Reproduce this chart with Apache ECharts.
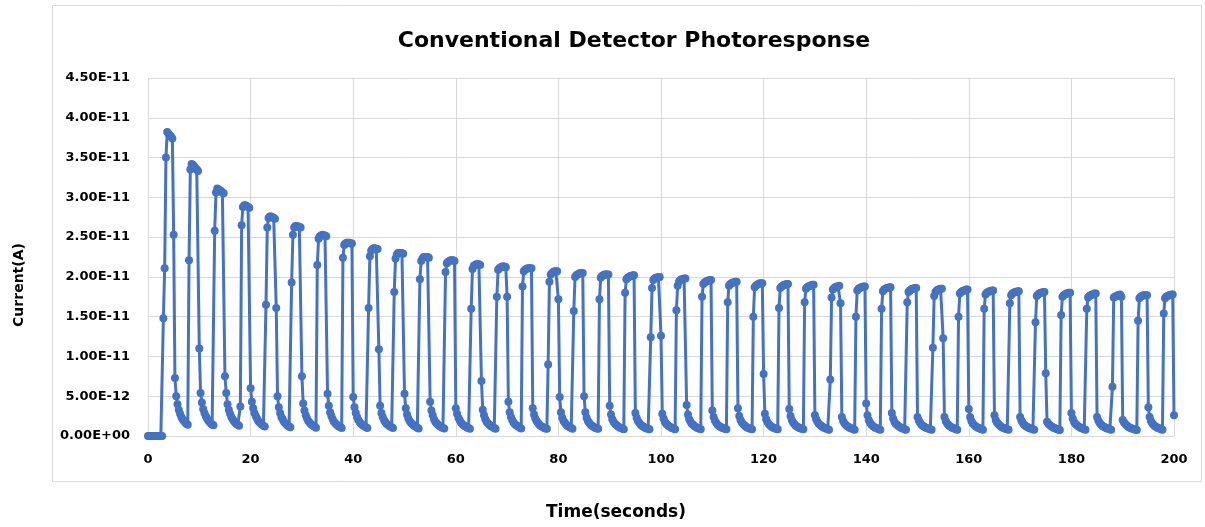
<!DOCTYPE html>
<html>
<head>
<meta charset="utf-8">
<title>Conventional Detector Photoresponse</title>
<script src="https://cdn.jsdelivr.net/npm/echarts@6/dist/echarts.min.js"></script>
<style>
  html, body { margin: 0; padding: 0; background: #ffffff; }
  #chart { width: 1205px; height: 527px; }
</style>
</head>
<body>
<div id="chart"></div>
<script>
// Logger sampling interval (s)
const SAMPLE_STEP = 0.25;

// Dark current before the first light pulse, pA (t = 0 ... 2.75 s)
const darkBaseline = [0, 0, 0, 0, 0, 0, 0, 0, 0, 0, 0, 0];

// Time at which each light-on cycle begins (s)
const cycleStart = [
  3, 8, 13, 18, 23, 28, 33, 38, 43, 48,
  53, 58, 63, 68, 73, 78, 83, 88, 93, 98,
  103, 108, 113, 118, 123, 128, 133, 138, 143, 148,
  153, 158, 163, 168, 173, 178, 183, 188, 193, 198
];

// Photocurrent samples of each cycle, pA (light on, switch off, decay)
const cycleCurrent = [
  [14.8, 21.1, 35.0, 38.2, 38.0, 37.8, 37.6, 37.4, 25.3, 7.3, 5.0, 4.0, 3.3, 2.8, 2.4, 2.1, 1.9, 1.7, 1.55, 1.4],
  [22.1, 33.5, 34.2, 34.1, 33.9, 33.7, 33.5, 33.3, 11.0, 5.4, 4.2, 3.4, 2.9, 2.5, 2.2, 1.95, 1.75, 1.6, 1.45, 1.35],
  [25.8, 30.6, 31.1, 31.0, 30.9, 30.8, 30.6, 30.5, 7.5, 5.4, 4.0, 3.3, 2.8, 2.4, 2.1, 1.85, 1.65, 1.5, 1.4, 1.3],
  [3.7, 26.5, 28.8, 29.0, 29.0, 28.9, 28.8, 28.7, 6.0, 4.3, 3.5, 2.9, 2.5, 2.2, 1.9, 1.7, 1.55, 1.4, 1.3, 1.2],
  [16.5, 26.2, 27.4, 27.6, 27.6, 27.5, 27.4, 27.3, 16.1, 5.0, 3.6, 2.9, 2.4, 2.1, 1.8, 1.6, 1.45, 1.3, 1.2, 1.1],
  [19.3, 25.3, 26.2, 26.4, 26.4, 26.3, 26.3, 26.2, 7.5, 4.1, 3.2, 2.6, 2.2, 1.9, 1.7, 1.5, 1.35, 1.25, 1.15, 1.05],
  [21.5, 24.8, 25.1, 25.2, 25.3, 25.2, 25.2, 25.1, 5.3, 3.8, 3.0, 2.5, 2.1, 1.8, 1.6, 1.45, 1.3, 1.2, 1.1, 1.0],
  [22.4, 24.0, 24.2, 24.3, 24.3, 24.3, 24.2, 24.2, 4.9, 3.6, 2.9, 2.4, 2.0, 1.75, 1.55, 1.4, 1.3, 1.2, 1.1, 1.0],
  [16.1, 22.6, 23.3, 23.5, 23.6, 23.6, 23.5, 23.5, 10.9, 3.8, 2.9, 2.4, 2.0, 1.75, 1.55, 1.4, 1.3, 1.2, 1.1, 1.0],
  [18.1, 22.3, 22.8, 23.0, 23.0, 23.0, 23.0, 22.9, 5.3, 3.5, 2.7, 2.2, 1.9, 1.65, 1.5, 1.35, 1.25, 1.15, 1.05, 0.95],
  [19.7, 22.0, 22.3, 22.5, 22.5, 22.5, 22.5, 22.4, 4.3, 3.2, 2.6, 2.1, 1.8, 1.6, 1.45, 1.3, 1.2, 1.1, 1.0, 0.95],
  [20.6, 21.7, 21.9, 22.0, 22.1, 22.1, 22.1, 22.0, 3.5, 2.8, 2.3, 2.0, 1.7, 1.5, 1.35, 1.25, 1.15, 1.05, 1.0, 0.9],
  [16.0, 21.0, 21.4, 21.5, 21.6, 21.6, 21.6, 21.5, 6.9, 3.3, 2.6, 2.1, 1.8, 1.6, 1.45, 1.3, 1.2, 1.1, 1.0, 0.9],
  [17.5, 20.9, 21.1, 21.2, 21.3, 21.3, 21.3, 21.2, 17.5, 4.3, 3.0, 2.4, 2.0, 1.7, 1.5, 1.35, 1.25, 1.15, 1.05, 0.95],
  [18.8, 20.7, 20.9, 21.0, 21.1, 21.1, 21.1, 21.1, 3.5, 2.7, 2.2, 1.9, 1.65, 1.45, 1.3, 1.2, 1.1, 1.0, 0.95, 0.9],
  [9.0, 19.4, 20.3, 20.5, 20.6, 20.7, 20.7, 20.7, 17.2, 4.9, 3.0, 2.3, 1.9, 1.65, 1.45, 1.3, 1.2, 1.1, 1.0, 0.9],
  [15.7, 20.0, 20.2, 20.3, 20.4, 20.5, 20.5, 20.5, 5.0, 3.0, 2.3, 1.9, 1.65, 1.45, 1.3, 1.2, 1.1, 1.0, 0.95, 0.9],
  [17.2, 19.9, 20.1, 20.2, 20.3, 20.3, 20.3, 20.3, 3.8, 2.7, 2.1, 1.8, 1.55, 1.4, 1.25, 1.15, 1.05, 1.0, 0.9, 0.85],
  [18.0, 19.7, 19.9, 20.0, 20.1, 20.1, 20.2, 20.2, 2.9, 2.3, 1.9, 1.65, 1.45, 1.3, 1.2, 1.1, 1.0, 0.95, 0.9, 0.85],
  [12.4, 18.6, 19.6, 19.8, 19.9, 19.9, 20.0, 20.0, 12.6, 2.8, 2.2, 1.8, 1.55, 1.4, 1.25, 1.15, 1.05, 1.0, 0.9, 0.85],
  [15.8, 18.9, 19.4, 19.6, 19.7, 19.7, 19.8, 19.8, 3.9, 2.7, 2.1, 1.8, 1.55, 1.4, 1.25, 1.15, 1.05, 1.0, 0.9, 0.85],
  [17.5, 19.1, 19.3, 19.4, 19.5, 19.5, 19.6, 19.6, 3.2, 2.4, 1.95, 1.65, 1.45, 1.3, 1.2, 1.1, 1.0, 0.95, 0.9, 0.85],
  [16.8, 18.9, 19.1, 19.2, 19.3, 19.3, 19.4, 19.4, 3.5, 2.5, 2.0, 1.7, 1.5, 1.35, 1.2, 1.1, 1.0, 0.95, 0.9, 0.85],
  [15.0, 18.7, 18.9, 19.0, 19.1, 19.2, 19.2, 19.2, 7.8, 2.8, 2.1, 1.75, 1.5, 1.35, 1.2, 1.1, 1.0, 0.95, 0.9, 0.85],
  [16.1, 18.6, 18.8, 18.9, 19.0, 19.0, 19.1, 19.1, 3.4, 2.5, 2.0, 1.7, 1.5, 1.3, 1.2, 1.1, 1.0, 0.95, 0.9, 0.85],
  [16.8, 18.5, 18.7, 18.8, 18.9, 18.9, 19.0, 19.0, 2.6, 2.1, 1.8, 1.55, 1.4, 1.25, 1.15, 1.05, 1.0, 0.9, 0.85, 0.8],
  [7.1, 17.4, 18.4, 18.6, 18.7, 18.8, 18.8, 18.9, 16.7, 2.4, 1.9, 1.6, 1.4, 1.25, 1.15, 1.05, 1.0, 0.9, 0.85, 0.8],
  [15.0, 18.3, 18.5, 18.6, 18.7, 18.7, 18.8, 18.8, 4.1, 2.6, 2.0, 1.65, 1.45, 1.3, 1.15, 1.05, 1.0, 0.9, 0.85, 0.8],
  [16.0, 18.2, 18.4, 18.5, 18.6, 18.6, 18.7, 18.7, 2.9, 2.2, 1.8, 1.55, 1.4, 1.25, 1.15, 1.05, 1.0, 0.9, 0.85, 0.8],
  [16.8, 18.1, 18.3, 18.4, 18.5, 18.5, 18.6, 18.6, 2.4, 1.95, 1.65, 1.45, 1.3, 1.2, 1.1, 1.0, 0.95, 0.9, 0.85, 0.8],
  [11.1, 17.6, 18.1, 18.3, 18.4, 18.4, 18.5, 18.5, 12.3, 2.4, 1.9, 1.6, 1.4, 1.25, 1.15, 1.05, 1.0, 0.9, 0.85, 0.8],
  [15.0, 17.9, 18.1, 18.2, 18.3, 18.3, 18.4, 18.4, 3.4, 2.4, 1.9, 1.6, 1.4, 1.25, 1.15, 1.05, 1.0, 0.9, 0.85, 0.8],
  [16.0, 17.8, 18.0, 18.1, 18.2, 18.2, 18.3, 18.3, 2.6, 2.0, 1.7, 1.5, 1.35, 1.2, 1.1, 1.0, 0.95, 0.9, 0.85, 0.8],
  [16.7, 17.7, 17.9, 18.0, 18.1, 18.1, 18.2, 18.2, 2.4, 1.95, 1.65, 1.45, 1.3, 1.2, 1.1, 1.0, 0.95, 0.9, 0.85, 0.8],
  [14.3, 17.6, 17.8, 17.9, 18.0, 18.0, 18.1, 18.1, 7.9, 1.8, 1.55, 1.4, 1.25, 1.15, 1.05, 1.0, 0.9, 0.85, 0.8, 0.75],
  [15.2, 17.5, 17.7, 17.8, 17.9, 17.9, 18.0, 18.0, 2.9, 2.2, 1.8, 1.55, 1.4, 1.25, 1.15, 1.05, 1.0, 0.9, 0.85, 0.8],
  [16.0, 17.4, 17.6, 17.7, 17.8, 17.8, 17.9, 17.9, 2.4, 1.95, 1.65, 1.45, 1.3, 1.2, 1.1, 1.0, 0.95, 0.9, 0.85, 0.8],
  [6.2, 17.4, 17.5, 17.6, 17.7, 17.7, 17.8, 17.5, 2.0, 1.7, 1.5, 1.35, 1.2, 1.1, 1.0, 0.95, 0.9, 0.85, 0.8, 0.75],
  [14.5, 17.3, 17.5, 17.6, 17.7, 17.7, 17.7, 17.7, 3.6, 2.4, 1.9, 1.6, 1.4, 1.25, 1.15, 1.05, 1.0, 0.9, 0.85, 0.8],
  [15.4, 17.3, 17.5, 17.6, 17.7, 17.7, 17.8, 17.8, 2.6]
];

// Axis tick labels
const xTickLabels = ['0', '20', '40', '60', '80', '100', '120', '140', '160', '180', '200'];
const yTickLabels = [
  '0.00E+00', '5.00E-12', '1.00E-11', '1.50E-11', '2.00E-11',
  '2.50E-11', '3.00E-11', '3.50E-11', '4.00E-11', '4.50E-11'
];

const PICO = 1e-12;
const X_STEP = 20;
const Y_STEP = 5e-12;

// Assemble [time, current in A] pairs
const points = [];
darkBaseline.forEach((v, k) => points.push([k * SAMPLE_STEP, v * PICO]));
cycleCurrent.forEach((row, i) => {
  row.forEach((v, k) => points.push([cycleStart[i] + k * SAMPLE_STEP, v * PICO]));
});

const FONT = 'DejaVu Sans';
const GRID_COLOR = '#d9d9d9';
const LINE_COLOR = '#4472c4';

const chart = echarts.init(document.getElementById('chart'), null, { renderer: 'canvas' });

chart.setOption({
  backgroundColor: '#ffffff',
  animation: false,
  title: {
    text: 'Conventional Detector Photoresponse',
    left: 629,
    textAlign: 'center',
    top: 25,
    textStyle: { fontFamily: FONT, fontSize: 22, fontWeight: 'bold', color: '#000000' }
  },
  grid: { left: 148, right: 31, top: 78, bottom: 91, containLabel: false },
  xAxis: {
    type: 'value',
    min: 0,
    max: 200,
    interval: X_STEP,
    axisLine: { show: true, lineStyle: { color: GRID_COLOR, width: 1 } },
    axisTick: { show: false },
    splitLine: { show: true, lineStyle: { color: GRID_COLOR, width: 1 } },
    axisLabel: {
      margin: 17,
      color: '#000000',
      fontFamily: FONT,
      fontSize: 13,
      fontWeight: 'bold',
      formatter: (v) => xTickLabels[Math.round(v / X_STEP)]
    }
  },
  yAxis: {
    type: 'value',
    min: 0,
    max: 4.5e-11,
    interval: Y_STEP,
    axisLine: { show: false },
    axisTick: { show: false },
    splitLine: { show: true, lineStyle: { color: GRID_COLOR, width: 1 } },
    axisLabel: {
      margin: 18,
      color: '#000000',
      fontFamily: FONT,
      fontSize: 13,
      fontWeight: 'bold',
      formatter: (v) => yTickLabels[Math.round(v / Y_STEP)]
    }
  },
  graphic: [
    {
      type: 'rect',
      silent: true,
      z: -10,
      shape: { x: 52.5, y: 5.5, width: 1149, height: 476 },
      style: { fill: 'none', stroke: GRID_COLOR, lineWidth: 1 }
    },
    {
      type: 'text',
      x: 616,
      y: 513,
      style: {
        text: 'Time(seconds)',
        fontFamily: FONT, fontSize: 17, fontWeight: 'bold', fill: '#000000',
        align: 'center', verticalAlign: 'middle'
      }
    },
    {
      type: 'text',
      x: 19,
      y: 285,
      rotation: Math.PI / 2,
      style: {
        text: 'Current(A)',
        fontFamily: FONT, fontSize: 14, fontWeight: 'bold', fill: '#000000',
        align: 'center', verticalAlign: 'middle'
      }
    }
  ],
  series: [
    {
      type: 'line',
      data: points,
      showSymbol: true,
      showAllSymbol: true,
      symbol: 'circle',
      symbolSize: 8,
      itemStyle: { color: LINE_COLOR },
      lineStyle: { color: LINE_COLOR, width: 3 },
      emphasis: { disabled: true }
    }
  ]
});
</script>
</body>
</html>
